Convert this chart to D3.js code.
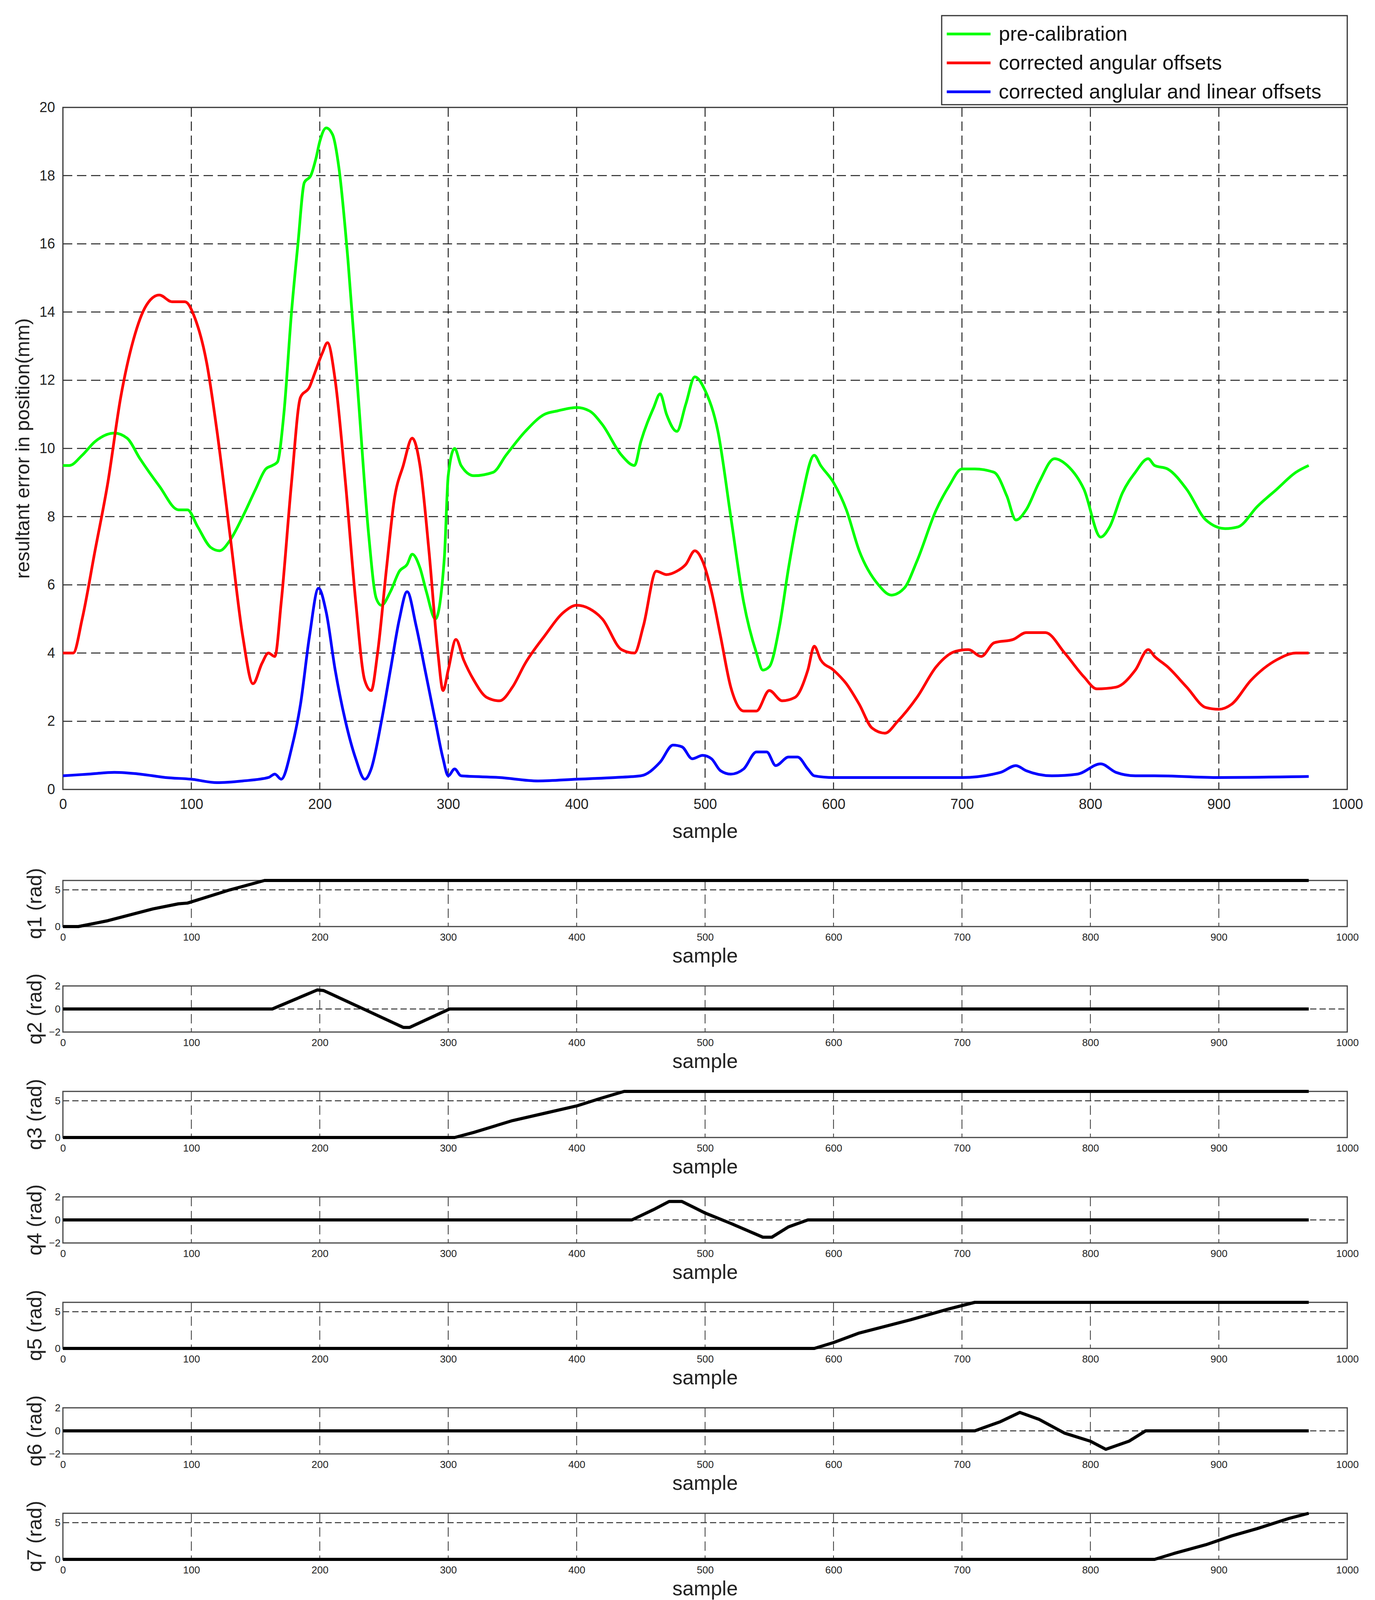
<!DOCTYPE html>
<html><head><meta charset="utf-8">
<script src="https://cdn.jsdelivr.net/npm/d3@7"></script>
<style>html,body{margin:0;padding:0;background:#fff;overflow:hidden}svg{display:block;font-family:"Liberation Sans",Arial,sans-serif}</style>
</head><body><svg id="chart" width="3519" height="4157"></svg>
<script>
// main plot series: [sample, error mm]
var greenPts = [[0,9.5],[5,9.5],[15,9.8],[25,10.2],[40,10.45],[50,10.3],[60,9.7],[75,8.9],[90,8.2],[97,8.2],[105,7.7],[115,7.1],[122,7.0],[130,7.3],[140,8.0],[150,8.8],[158,9.4],[163,9.5],[167,9.6],[172,11],[178,14],[183,16],[188,17.8],[193,18],[197,18.5],[200,19],[205,19.4],[210,19.2],[215,18.2],[222,15.5],[230,11.5],[238,7.5],[244,5.6],[248,5.4],[255,5.8],[262,6.4],[268,6.6],[272,6.9],[278,6.5],[283,5.8],[290,5.0],[297,6.8],[300,9.2],[305,10.0],[310,9.5],[320,9.2],[335,9.3],[345,9.8],[360,10.5],[375,11.0],[385,11.1],[400,11.2],[410,11.1],[420,10.7],[435,9.8],[445,9.5],[450,10.2],[460,11.2],[465,11.6],[470,11.0],[478,10.5],[485,11.3],[492,12.1],[500,11.7],[510,10.5],[520,8],[530,5.5],[540,4],[545,3.5],[550,3.6],[558,4.8],[565,6.5],[575,8.5],[585,9.8],[590,9.5],[600,9.0],[610,8.2],[620,7.0],[635,6.0],[645,5.7],[655,5.9],[665,6.7],[680,8.2],[690,8.9],[700,9.4],[710,9.4],[725,9.3],[735,8.6],[742,7.9],[750,8.2],[760,9.0],[772,9.7],[782,9.5],[795,8.8],[808,7.4],[815,7.7],[825,8.7],[835,9.3],[845,9.7],[850,9.5],[860,9.4],[875,8.8],[890,7.9],[905,7.65],[915,7.7],[930,8.3],[945,8.8],[960,9.3],[970,9.5]];
var redPts = [[0,4.0],[8,4.0],[15,5.0],[25,7.0],[35,9.0],[45,11.5],[55,13.2],[65,14.2],[75,14.5],[85,14.3],[95,14.3],[103,13.8],[112,12.5],[120,10.5],[130,7.5],[140,4.5],[148,3.1],[155,3.7],[160,4.0],[165,3.9],[170,5.5],[178,9],[185,11.5],[192,11.8],[196,12.2],[202,12.8],[206,13.1],[212,12],[220,9],[228,5.5],[235,3.2],[240,2.9],[245,4.0],[252,6.5],[258,8.5],[265,9.5],[272,10.3],[278,9.5],[285,7.0],[292,4.0],[296,2.9],[300,3.5],[306,4.4],[312,3.8],[320,3.2],[330,2.7],[340,2.6],[350,3.0],[360,3.7],[375,4.5],[390,5.2],[400,5.4],[410,5.3],[420,5.0],[435,4.1],[445,4.0],[452,4.8],[462,6.4],[470,6.3],[478,6.4],[485,6.6],[492,7.0],[498,6.7],[505,5.8],[512,4.5],[520,3.0],[530,2.3],[540,2.3],[550,2.9],[560,2.6],[570,2.7],[580,3.5],[585,4.2],[590,3.8],[600,3.5],[610,3.1],[620,2.5],[630,1.8],[640,1.65],[650,2.0],[665,2.7],[680,3.6],[695,4.05],[705,4.1],[715,3.9],[725,4.3],[740,4.4],[750,4.6],[765,4.6],[780,4.0],[795,3.3],[805,2.95],[820,3.0],[835,3.5],[845,4.1],[850,3.9],[860,3.6],[875,3.0],[890,2.4],[900,2.35],[910,2.5],[925,3.2],[945,3.8],[960,4.0],[970,4.0]];
var bluePts = [[0,0.4],[20,0.45],[40,0.5],[60,0.45],[80,0.35],[100,0.3],[120,0.2],[140,0.25],[160,0.35],[165,0.45],[170,0.3],[178,1.2],[185,2.5],[192,4.5],[199,5.9],[205,5.2],[212,3.5],[220,2.0],[228,0.9],[235,0.3],[240,0.6],[248,2.0],[255,3.5],[262,5.0],[268,5.8],[275,4.8],[282,3.5],[290,2.0],[296,0.9],[300,0.4],[305,0.6],[310,0.4],[340,0.35],[370,0.25],[400,0.3],[430,0.35],[450,0.4],[465,0.8],[475,1.3],[482,1.25],[490,0.9],[498,1.0],[505,0.9],[512,0.55],[520,0.45],[530,0.6],[540,1.1],[548,1.1],[555,0.7],[565,0.95],[572,0.95],[580,0.6],[585,0.4],[600,0.35],[650,0.35],[700,0.35],[730,0.5],[742,0.7],[750,0.55],[770,0.4],[790,0.45],[808,0.75],[820,0.5],[835,0.4],[850,0.4],[900,0.35],[970,0.38]];
var seriesNames = ['pre-calibration','corrected angular offsets','corrected anglular and linear offsets'];
var seriesColors = ['#00ff00','#ff0000','#0000ff'];
var xTicks = [0,100,200,300,400,500,600,700,800,900,1000];
var yTicks = [0,2,4,6,8,10,12,14,16,18,20];

// joint angles [sample, rad]
var q1 = [[0,0],[12,0],[35,0.8],[70,2.4],[90,3.1],[97,3.2],[130,5.0],[157,6.28],[970,6.28]];
var q2 = [[0,0],[163,0],[198,1.65],[203,1.6],[265,-1.6],[270,-1.6],[301,0],[970,0]];
var q3 = [[0,0],[305,0],[320,0.7],[350,2.3],[375,3.3],[400,4.3],[420,5.4],[437,6.28],[970,6.28]];
var q4 = [[0,0],[443,0],[460,0.9],[472,1.6],[482,1.6],[500,0.6],[520,-0.3],[545,-1.5],[552,-1.5],[565,-0.6],[580,0],[970,0]];
var q5 = [[0,0],[585,0],[600,0.8],[620,2.1],[660,3.9],[690,5.4],[710,6.28],[970,6.28]];
var q6 = [[0,0],[710,0],[730,0.8],[745,1.6],[760,1.0],[780,-0.2],[800,-0.9],[812,-1.6],[830,-0.9],[843,0],[970,0]];
var q7 = [[0,0],[850,0],[865,0.8],[890,2.0],[910,3.2],[930,4.2],[955,5.6],[970,6.28]];
var joints = [q1,q2,q3,q4,q5,q6,q7];
var jointNames = ['q1 (rad)','q2 (rad)','q3 (rad)','q4 (rad)','q5 (rad)','q6 (rad)','q7 (rad)'];

var svg = d3.select("#chart");
var L = 161, R = 3448;
var fmt = d3.format("d");

// ---- main plot
var top0 = 275, bot0 = 2021;
var x = d3.scaleLinear().domain([0,1000]).range([L,R]);
var y = d3.scaleLinear().domain([0,20]).range([bot0,top0]);

var g = svg.append("g");
g.selectAll(".vg").data(xTicks.slice(1,-1)).enter().append("line")
    .attr("x1", d => x(d)).attr("x2", d => x(d)).attr("y1", top0).attr("y2", bot0)
    .attr("stroke","#222").attr("stroke-width",2.5).attr("stroke-dasharray","24,12");
g.selectAll(".hg").data(yTicks.slice(1,-1)).enter().append("line")
    .attr("y1", d => y(d)).attr("y2", d => y(d)).attr("x1", L).attr("x2", R)
    .attr("stroke","#222").attr("stroke-width",2.5).attr("stroke-dasharray","24,12");
g.append("rect").attr("x",L).attr("y",top0).attr("width",R-L).attr("height",bot0-top0)
    .attr("fill","none").attr("stroke","#333").attr("stroke-width",3);

var xa = g.append("g").attr("transform","translate(0,"+bot0+")")
    .call(d3.axisBottom(x).tickValues(xTicks).tickFormat(fmt).tickSize(0).tickPadding(24));
var ya = g.append("g").attr("transform","translate("+L+",0)")
    .call(d3.axisLeft(y).tickValues(yTicks).tickFormat(fmt).tickSize(0).tickPadding(20));
[xa,ya].forEach(a => { a.select(".domain").remove(); a.selectAll("text").attr("font-size",36).attr("font-family","Liberation Sans").attr("fill","#222"); });

var line = d3.line().x(d => x(d[0])).y(d => y(d[1])).curve(d3.curveMonotoneX);
[greenPts, redPts, bluePts].forEach((pts,i) => {
    g.append("path").attr("d", line(pts)).attr("fill","none")
        .attr("stroke", seriesColors[i]).attr("stroke-width",7).attr("stroke-linejoin","round");
});

g.append("text").attr("x",(L+R)/2).attr("y",2145).attr("text-anchor","middle")
    .attr("font-size",52).attr("fill","#222").text("sample");
g.append("text").attr("transform","translate(75,1148) rotate(-90)").attr("text-anchor","middle")
    .attr("font-size",50).attr("fill","#222").text("resultant error in position(mm)");

// legend
var lg = svg.append("g");
lg.append("rect").attr("x",2410).attr("y",40).attr("width",1038).attr("height",228)
    .attr("fill","#fff").attr("stroke","#333").attr("stroke-width",3);
seriesNames.forEach((n,i) => {
    var yy = 87 + i*74;
    lg.append("line").attr("x1",2423).attr("x2",2535).attr("y1",yy).attr("y2",yy)
        .attr("stroke",seriesColors[i]).attr("stroke-width",7);
    lg.append("text").attr("x",2556).attr("y",yy+17).attr("font-size",52).attr("fill","#111").text(n);
});

// ---- joint subplots
joints.forEach((pts,k) => {
    var t = 2254 + k*270, b = t + 118;
    var small = (k % 2 == 1);
    var sy = d3.scaleLinear().domain(small ? [-2,2] : [0,6.28]).range([b,t]);
    var yt = small ? [-2,0,2] : [0,5];
    var sg = svg.append("g");
    sg.selectAll(".v").data(xTicks.slice(1,-1)).enter().append("line")
        .attr("x1", d => x(d)).attr("x2", d => x(d)).attr("y1", t).attr("y2", b)
        .attr("stroke","#333").attr("stroke-width",2).attr("stroke-dasharray","24,12");
    sg.selectAll(".h").data(yt.filter(v => sy(v) > t+2 && sy(v) < b-2)).enter().append("line")
        .attr("y1", d => sy(d)).attr("y2", d => sy(d)).attr("x1", L).attr("x2", R)
        .attr("stroke","#333").attr("stroke-width",2.5).attr("stroke-dasharray","16,8");
    sg.append("rect").attr("x",L).attr("y",t).attr("width",R-L).attr("height",b-t)
        .attr("fill","none").attr("stroke","#444").attr("stroke-width",3);
    var sx = sg.append("g").attr("transform","translate(0,"+b+")")
        .call(d3.axisBottom(x).tickValues(xTicks).tickFormat(fmt).tickSize(0).tickPadding(18));
    var syA = sg.append("g").attr("transform","translate("+L+",0)")
        .call(d3.axisLeft(sy).tickValues(yt).tickFormat(fmt).tickSize(0).tickPadding(6));
    [sx,syA].forEach(a => { a.select(".domain").remove(); a.selectAll("text").attr("font-size",26).attr("fill","#222"); });
    sg.append("path").attr("d", d3.line().x(d => x(d[0])).y(d => sy(d[1]))(pts))
        .attr("fill","none").attr("stroke","#000").attr("stroke-width",8).attr("stroke-linejoin","round");
    sg.append("text").attr("x",(L+R)/2).attr("y",b+92).attr("text-anchor","middle")
        .attr("font-size",52).attr("fill","#222").text("sample");
    sg.append("text").attr("transform","translate(106,"+(t+b)/2+") rotate(-90)").attr("text-anchor","middle")
        .attr("font-size",52).attr("fill","#222").text(jointNames[k]);
});
</script></body></html>
